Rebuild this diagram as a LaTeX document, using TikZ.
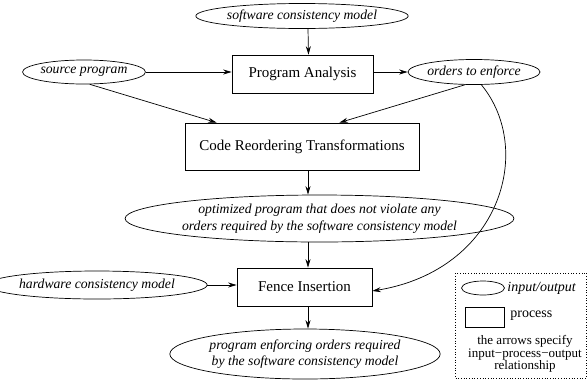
\documentclass[tikz,border=0pt]{standalone}
\usepackage{fontspec}
\setmainfont{Liberation Serif}
\usetikzlibrary{shapes,arrows,arrows.meta,positioning,calc,fit}

\tikzset{
  proc/.style={draw, rectangle, inner sep=0pt, font=\fontsize{15}{17}\selectfont},
  io/.style={draw, ellipse, inner sep=0pt, align=center, font=\fontsize{13.7}{16.5}\selectfont\itshape},
  legtext/.style={inner sep=0pt, font=\fontsize{14}{12.5}\selectfont},
}

\begin{document}
\begin{tikzpicture}[x=1pt, y=-1pt, >={Stealth[length=8.5pt,width=5pt]}, line width=0.7pt]
        \useasboundingbox (0,0) rectangle (588,381);
        % inputs, outputs and processes
        \node (sw) [io, minimum width=175pt, minimum height=25pt] at (302,16) {software consistency model};
        \node (pa) [proc, minimum width=141pt, minimum height=38pt] at (302.5,74) {Program Analysis};
        \node (src) [io, minimum width=104pt, minimum height=24pt] at (84,72) {source program};
        \node (ord) [io, minimum width=112pt, minimum height=25pt] at (474,72) {orders to enforce};
        \node (crt) [proc, minimum width=234pt, minimum height=47pt] at (302,146.5) {Code Reordering Transformations};
        \node (opt) [io, minimum width=319pt, minimum height=47pt] at (319.5,218.5) {optimized program that does not violate any\\orders required by the software consistency model};
        \node (fence) [proc, minimum width=135pt, minimum height=38pt] at (304.5,287) {Fence Insertion};
        \node (hw) [io, minimum width=180pt, minimum height=28pt] at (97,285) {hardware consistency model};
        \node (enf) [io, minimum width=240pt, minimum height=50pt] at (305,354) {program enforcing orders required\\by the software consistency model};

        \draw[->] ([xshift=6pt]sw.south) -- ([xshift=6pt]pa.north);
        \draw[->] (src.east) -- (src.east -| pa.west);
        \draw[->] (pa.east |- ord.west) -- (ord.west);
        \draw[->] (src.-65) -- ([xshift=32pt]crt.north west);
        \draw[->] (ord.-125) -- ([xshift=-80pt]crt.north east);
        \draw[->] ([xshift=6pt]crt.south) -- ([xshift=6pt]crt.south |- opt.north);
        \draw[->] ([xshift=6pt]crt.south |- opt.south) -- ([xshift=6pt]crt.south |- fence.north);
        \draw[->] (hw.east) -- (hw.east -| fence.west);
        \draw[->] ([xshift=3.5pt]fence.south) -- ([xshift=3.5pt]fence.south |- enf.north);
        \draw[->] (ord.-60) .. controls (535,150) and (500,270) .. ([yshift=-4pt]fence.east);

        % legend
        \node (legend) [draw, line width=0.6pt, dash pattern=on 0.7pt off 2pt, minimum width=131pt, minimum height=105pt] at (521,325.5) {};
        \node (legio) [draw, ellipse, inner sep=0pt, minimum width=43pt, minimum height=14pt] at (483,288) {};
        \node (legiotext) [legtext, anchor=west, font=\fontsize{14}{16}\selectfont\itshape] at (507,288) {input/output};
        \node (legproc) [draw, rectangle, inner sep=0pt, minimum width=39pt, minimum height=20pt] at (484.5,317) {};
        \node (legproctext) [legtext, anchor=west] at (510,316) {process};
        \node (legnote) [legtext, align=center, font=\fontsize{13}{12.5}\selectfont] at (525,354) {the arrows specify\\input−process−output\\relationship};
\end{tikzpicture}
\end{document}
